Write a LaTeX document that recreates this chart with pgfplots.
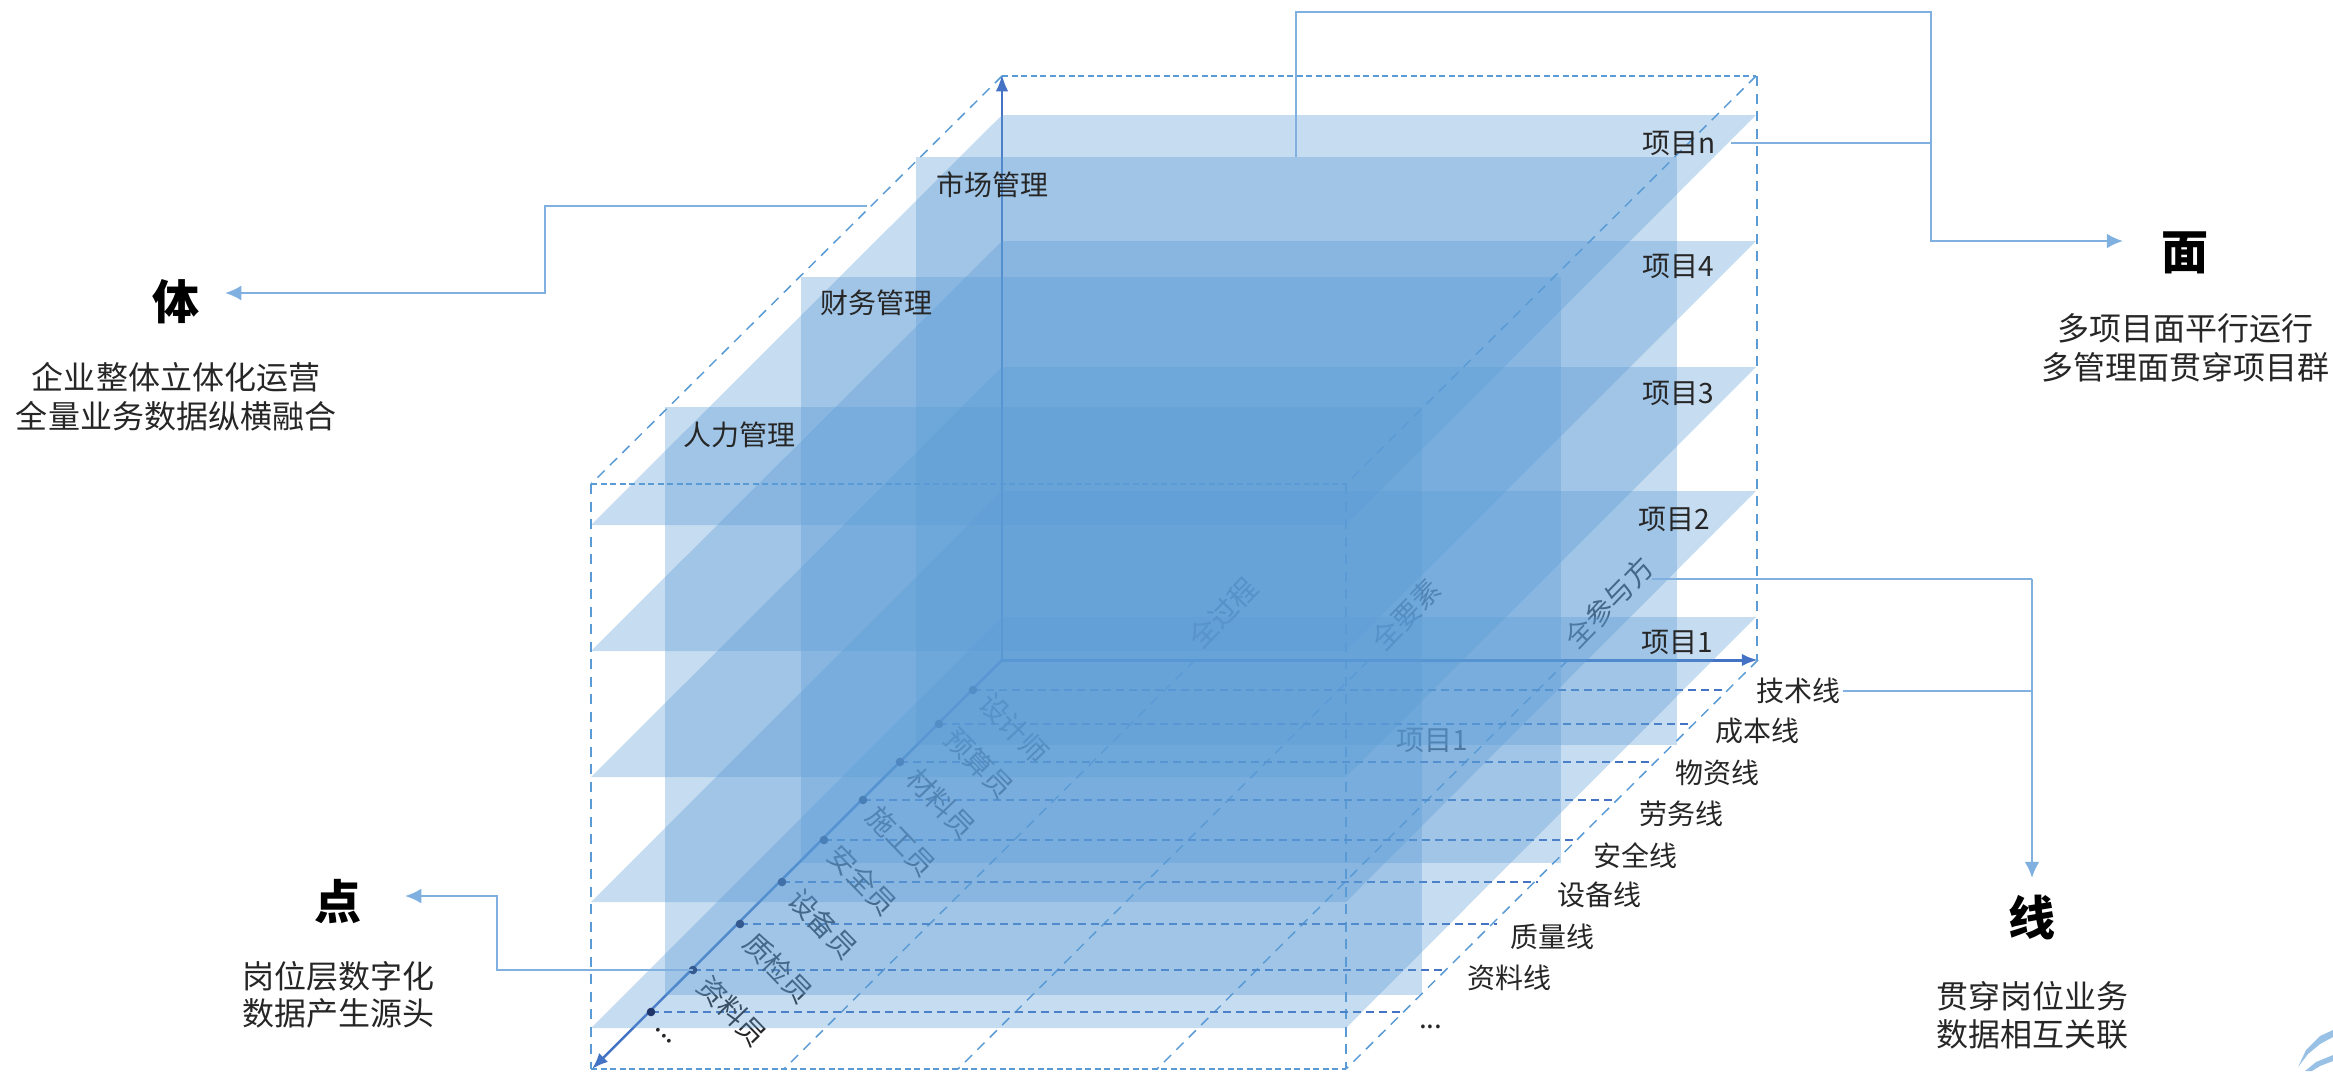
\documentclass[border=0pt]{standalone}
\usepackage{fontspec}
\setmainfont{Noto Sans CJK SC}
\usepackage{pgfplots}
\pgfplotsset{compat=1.18}
\usetikzlibrary{arrows.meta}
\definecolor{plane}{HTML}{5B9BD5}
\definecolor{axisb}{HTML}{4472C4}
\definecolor{dashb}{HTML}{5B9BD5}
\definecolor{call}{HTML}{7FB0DF}
\definecolor{tx}{HTML}{262626}
\pgfplotsset{
 pl/.style={fill=plane,draw=none,fill opacity=0.35,forget plot},
 boxd/.style={dashb,line width=0.6pt,dash pattern=on 4pt off 3pt,forget plot},
 boxt/.style={dashb,line width=0.8pt,dash pattern=on 2.4pt off 1.4pt,forget plot},
 rowd/.style={axisb,line width=0.7pt,dash pattern=on 3.2pt off 2pt,forget plot},
 axa/.style={axisb,forget plot,-{Latex[length=6.5pt,width=5pt]}},
 cl/.style={call,line width=1pt,forget plot},
 cla/.style={call,line width=1pt,forget plot,-{Latex[length=6.5pt,width=6pt]}},
 base/.style={scale only axis,width=933.2pt,height=428.4pt,
  xmin=0,xmax=2333,ymin=0,ymax=1071,y dir=reverse,hide axis,clip=false},
}
\tikzset{
 lb/.style={tx,inner sep=0pt,font=\fontsize{11.2}{13}\selectfont},
 sb/.style={tx,inner sep=0pt,font=\fontsize{12.8}{15}\selectfont},
 bg/.style={black,inner sep=0pt,font=\fontsize{18.8}{21}\selectfont\bfseries},
}
\begin{document}
\begin{tikzpicture}
\begin{axis}[base]
\path (axis cs:0,0) -- (axis cs:2333,1071);
% ---- dashed box
\addplot[boxt] coordinates {(1002,76)(1756,76)};
\addplot[boxt] coordinates {(591,484)(1346,484)};
\addplot[boxt] coordinates {(591,1069)(1346,1069)};
\addplot[boxd] coordinates {(1002,76)(591,484)};
\addplot[boxd] coordinates {(1756,76)(1346,484)};
\addplot[boxd] coordinates {(1758,660)(1346,1069)};
\addplot[boxd] coordinates {(1757,76)(1757,660)};
\addplot[boxd] coordinates {(591,484)(591,1069)};
\addplot[boxd] coordinates {(1346,484)(1346,1069)};
\addplot[boxd] coordinates {(1195,660)(784,1069)};
\addplot[boxd] coordinates {(1369,660)(958,1069)};
\addplot[boxd] coordinates {(1568,660)(1157,1069)};
% ---- row lines
\addplot[rowd] coordinates {(973,690)(1725,690)};
\addplot[rowd] coordinates {(939,724)(1688,724)};
\addplot[rowd] coordinates {(900,762)(1653,762)};
\addplot[rowd] coordinates {(863,800)(1617,800)};
\addplot[rowd] coordinates {(824,840)(1578,840)};
\addplot[rowd] coordinates {(782,882)(1538,882)};
\addplot[rowd] coordinates {(740,924)(1497,924)};
\addplot[rowd] coordinates {(693,970)(1443,970)};
\addplot[rowd] coordinates {(651,1012)(1402,1012)};
\addplot[only marks,mark=*,mark size=1.5pt,color=black!80!blue,forget plot] coordinates {
 (973,690)(939,724)(900,762)(863,800)(824,840)(782,882)(740,924)(693,970)(651,1012)};
% ---- axes
\addplot[axa,line width=0.8pt] coordinates {(1002,660)(1002,75)};
\addplot[axa,line width=1.2pt] coordinates {(1002,660)(1758,660)};
\addplot[axa,line width=1pt] coordinates {(1002,660)(592,1069)};
% ---- labels below the planes
\node[lb,rotate=-46] at (axis cs:1014,728) {设计师};
\node[lb,rotate=-46] at (axis cs:979,763.5) {预算员};
\node[lb,rotate=-46] at (axis cs:941,803.5) {材料员};
\node[lb,rotate=-46] at (axis cs:901.6,841) {施工员};
\node[lb,rotate=-46] at (axis cs:862.6,880) {安全员};
\node[lb,rotate=-46] at (axis cs:823,924) {设备员};
\node[lb,rotate=-46] at (axis cs:778,968) {质检员};
\node[lb,rotate=-46] at (axis cs:732.5,1011) {资料员};
\node[lb,rotate=-46] at (axis cs:664,1036) {...};
\node[lb,rotate=46] at (axis cs:1223,613) {全过程};
\node[lb,rotate=46] at (axis cs:1406,614.5) {全要素};
\node[lb,rotate=46] at (axis cs:1609,602.6) {全参与方};
\node[lb] at (axis cs:1432,740) {项目1};
\end{axis}
\begin{axis}[base]
\path (axis cs:0,0) -- (axis cs:2333,1071);
% ---- horizontal planes
\addplot[pl] coordinates {(1002,115)(1756,115)(1346,525)(591,525)} --cycle;
\addplot[pl] coordinates {(1002,241)(1756,241)(1346,651)(591,651)} --cycle;
\addplot[pl] coordinates {(1002,367)(1756,367)(1346,777)(591,777)} --cycle;
\addplot[pl] coordinates {(1002,491)(1756,491)(1346,902)(591,902)} --cycle;
\addplot[pl] coordinates {(1002,617)(1756,617)(1346,1028)(591,1028)} --cycle;
% ---- vertical planes
\addplot[pl] coordinates {(665,407)(1422,407)(1422,995)(665,995)} --cycle;
\addplot[pl] coordinates {(801,277)(1561,277)(1561,863)(801,863)} --cycle;
\addplot[pl] coordinates {(916,157)(1677,157)(1677,745)(916,745)} --cycle;
% ---- callouts
\addplot[cl] coordinates {(1296,157)(1296,12)(1931,12)(1931,143)};
\addplot[cl] coordinates {(1731,143)(1931,143)};
\addplot[cla] coordinates {(1931,143)(1931,241)(2123,241)};
\addplot[cla] coordinates {(867,206)(545,206)(545,293)(225,293)};
\addplot[cla] coordinates {(693,970)(497,970)(497,896)(405,896)};
\addplot[cl] coordinates {(1652,579)(2032,579)};
\addplot[cl] coordinates {(1843,691)(2032,691)};
\addplot[cla] coordinates {(2032,579)(2032,878)};
% ---- logo fragment
\addplot[fill=call!80,draw=none,forget plot] coordinates {(2298,1067)(2306,1050)(2320,1036)(2333,1030)(2333,1037)(2320,1044)(2308,1054)} --cycle;
\addplot[fill=call!80,draw=none,forget plot] coordinates {(2305,1071)(2316,1062)(2333,1055)(2333,1061)(2320,1066)(2312,1071)} --cycle;
% ---- top labels
\node[lb] at (axis cs:992,185) {市场管理};
\node[lb] at (axis cs:876,303) {财务管理};
\node[lb] at (axis cs:739,435) {人力管理};
\node[lb] at (axis cs:1678.6,143) {项目n};
\node[lb] at (axis cs:1678.6,266) {项目4};
\node[lb] at (axis cs:1678.6,393) {项目3};
\node[lb] at (axis cs:1674,519) {项目2};
\node[lb] at (axis cs:1677,642.6) {项目1};
\node[lb] at (axis cs:1798,691) {技术线};
\node[lb] at (axis cs:1757,731) {成本线};
\node[lb] at (axis cs:1717.5,773) {物资线};
\node[lb] at (axis cs:1681,814) {劳务线};
\node[lb] at (axis cs:1635,856) {安全线};
\node[lb] at (axis cs:1599,895) {设备线};
\node[lb] at (axis cs:1552.6,937) {质量线};
\node[lb] at (axis cs:1509,977.5) {资料线};
\node[lb] at (axis cs:1430.7,1027) {...};
% ---- big labels
\node[bg] at (axis cs:176,302) {体};
\node[bg] at (axis cs:2185,253) {面};
\node[bg] at (axis cs:338,902) {点};
\node[bg] at (axis cs:2032,918) {线};
\node[sb] at (axis cs:176,377) {企业整体立体化运营};
\node[sb] at (axis cs:176,416) {全量业务数据纵横融合};
\node[sb] at (axis cs:2185,328) {多项目面平行运行};
\node[sb] at (axis cs:2185,367) {多管理面贯穿项目群};
\node[sb] at (axis cs:338,976) {岗位层数字化};
\node[sb] at (axis cs:338,1013) {数据产生源头};
\node[sb] at (axis cs:2032,996) {贯穿岗位业务};
\node[sb] at (axis cs:2032,1034) {数据相互关联};
\end{axis}
\end{tikzpicture}
\end{document}
